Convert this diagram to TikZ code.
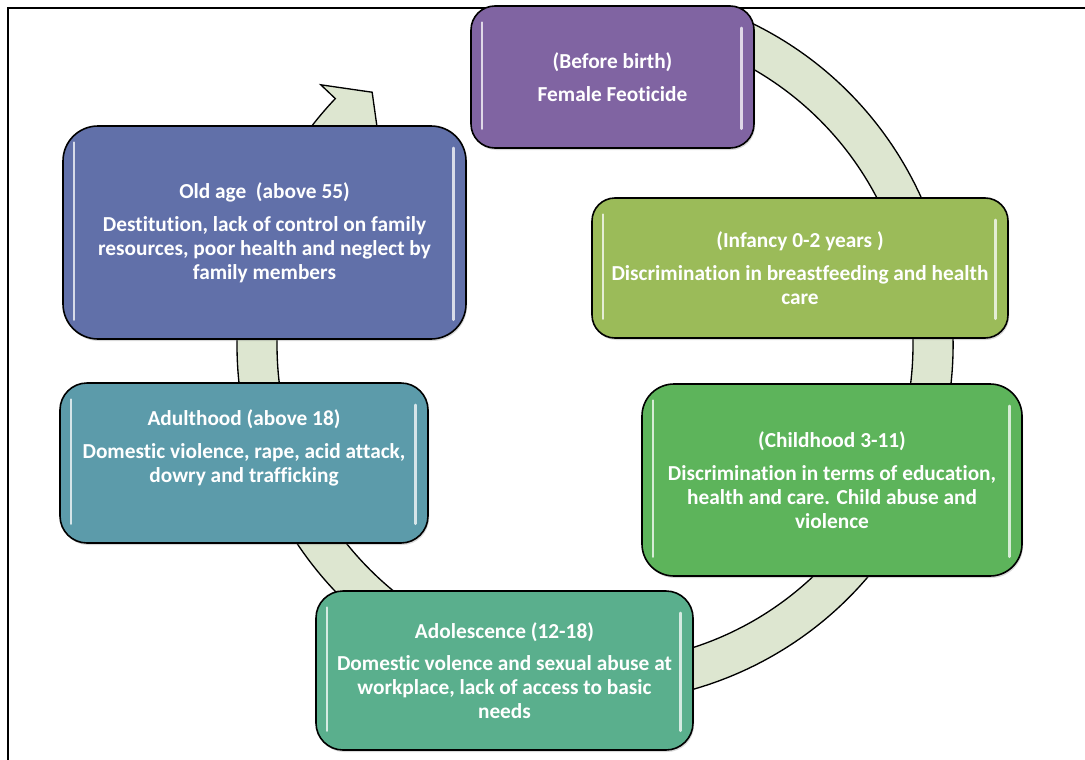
\documentclass[tikz,border=0pt]{standalone}
\usepackage{fontspec}
\setmainfont{Carlito}[Ligatures=NoCommon]
\usetikzlibrary{calc,shadows}
\definecolor{cbirth}{HTML}{8064A2}
\definecolor{cinfancy}{HTML}{9BBB59}
\definecolor{cchild}{HTML}{5DB45B}
\definecolor{cadol}{HTML}{5AAF8D}
\definecolor{cadult}{HTML}{5C9BAA}
\definecolor{cold}{HTML}{6170A9}
\definecolor{ringgreen}{HTML}{DDE6D0}
\begin{document}
\begin{tikzpicture}[x=0.75pt,y=-0.75pt,
  stagetext/.style={text=white, align=center, font=\bfseries\fontsize{16}{18}\selectfont, inner sep=0pt},
  stagebox/.style={stagetext, draw=black, line width=1.2pt,
    drop shadow={opacity=0.3, shadow xshift=0.8pt, shadow yshift=-1.5pt}},
  hl/.style={white, line width=1.8pt, opacity=0.75, line cap=round},
  ringstyle/.style={draw=black, line width=1pt, fill=ringgreen, line join=miter},
  framestyle/.style={draw=black, line width=1.5pt}]
\useasboundingbox (0,0) rectangle (1085,760);
% frame
\coordinate (fb) at (8,762);
\coordinate (ftl) at (8,8);
\coordinate (ftr) at (1087,8);
\draw[framestyle] (fb) -- (ftl) -- (ftr);
% cycle ring
\coordinate (c) at (595,345);
\begin{scope}
\clip (0,9) rectangle (1085,760);
\draw[ringstyle] ($(c)+(-70:358)$) arc[start angle=-70, end angle=223.5, radius=358]
  -- ($(c)+(223.5:378)$) -- ($(c)+(228.6:337)$) -- ($(c)+(223.5:298)$)
  -- ($(c)+(223.5:318)$) arc[start angle=223.5, end angle=-70, radius=318] -- cycle;
\end{scope}
% stages
\node[stagebox, fill=cbirth, minimum width=283*0.75pt, minimum height=142*0.75pt, rounded corners=24*0.75pt] (birth) at (612.5,77)
  {(Before birth)\\[6.5pt]Female Feoticide};
\node[stagebox, fill=cinfancy, minimum width=416*0.75pt, minimum height=140*0.75pt, rounded corners=23*0.75pt] (infancy) at (800,268)
  {(Infancy 0-2 years )\\[6.5pt]Discrimination in breastfeeding and health\\care};
\node[stagebox, fill=cchild, minimum width=380*0.75pt, minimum height=192*0.75pt, rounded corners=32*0.75pt] (child) at (832,480)
  {(Childhood 3-11)\\[6.5pt]Discrimination in terms of education,\\health and care. Child abuse and\\violence};
\node[stagebox, fill=cadol, minimum width=377*0.75pt, minimum height=159*0.75pt, rounded corners=27*0.75pt] (adol) at (504.5,670.5)
  {Adolescence (12-18)\\[6.5pt]Domestic volence and sexual abuse at\\workplace, lack of access to basic\\needs};
\node[stagebox, fill=cadult, minimum width=368*0.75pt, minimum height=160*0.75pt, rounded corners=27*0.75pt,
  label={[stagetext, yshift=11.5pt]center:{Adulthood (above 18)\\[6.5pt]Domestic violence, rape, acid attack,\\dowry and trafficking}}] (adult) at (244,463) {};
\node[stagebox, fill=cold, minimum width=403*0.75pt, minimum height=213*0.75pt, rounded corners=35*0.75pt] (old) at (264.5,232.5)
  {Old age\ \ (above 55)\\[6.5pt]Destitution, lack of control on family\\resources, poor health and neglect by\\family members};
% glossy highlights
\foreach \b in {birth,infancy,child,adol,adult,old}{
  \draw[hl] ([xshift=9pt,yshift=-13pt]\b.north west) -- ([xshift=9pt,yshift=15pt]\b.south west);
  \draw[hl] ([xshift=-10pt,yshift=-17pt]\b.north east) -- ([xshift=-10pt,yshift=15pt]\b.south east);
}
\end{tikzpicture}
\end{document}
